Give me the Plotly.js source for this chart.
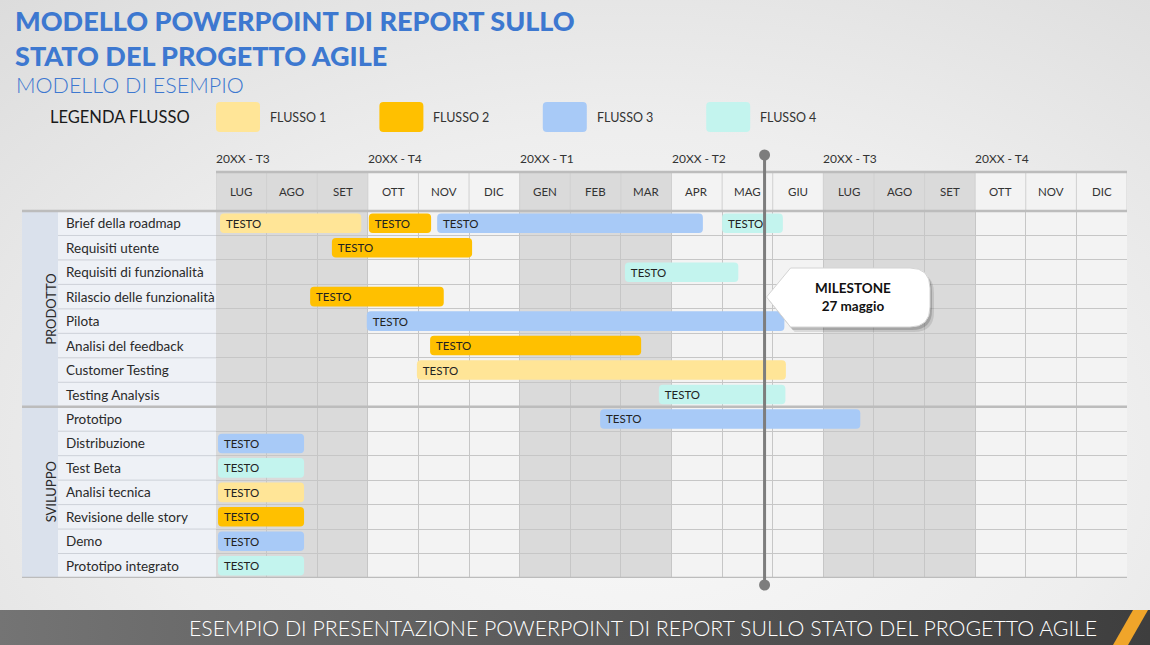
<!DOCTYPE html>
<html><head><meta charset="utf-8">
<script src="https://cdn.plot.ly/plotly-3.0.1.min.js"></script>
<style>
html,body{margin:0;padding:0;}
body{width:1150px;height:645px;overflow:hidden;
background:
 linear-gradient(to right,#747474,#3e3e3e) left bottom/100% 35px no-repeat,
 radial-gradient(ellipse 95% 110% at 55% 70%, #f9f9f9 0%, #eeeeee 45%, #d6d6d6 100%);}
#chart{width:1150px;height:645px;}
</style></head><body><div id="chart"></div>
<script>
// ---------- DATA ----------
const titleLines = ['MODELLO POWERPOINT DI REPORT SULLO', 'STATO DEL PROGETTO AGILE'];
const subtitle = 'MODELLO DI ESEMPIO';
const legendTitle = 'LEGENDA FLUSSO';
const footerText = 'ESEMPIO DI PRESENTAZIONE POWERPOINT DI REPORT SULLO STATO DEL PROGETTO AGILE';
const quarters = ['20XX - T3', '20XX - T4', '20XX - T1', '20XX - T2', '20XX - T3', '20XX - T4'];
const months = ['LUG','AGO','SET','OTT','NOV','DIC','GEN','FEB','MAR','APR','MAG','GIU','LUG','AGO','SET','OTT','NOV','DIC'];
const tasks = ['Brief della roadmap','Requisiti utente','Requisiti di funzionalità','Rilascio delle funzionalità','Pilota','Analisi del feedback','Customer Testing','Testing Analysis','Prototipo','Distribuzione','Test Beta','Analisi tecnica','Revisione delle story','Demo','Prototipo integrato'];
const groupNames = ['PRODOTTO', 'SVILUPPO'];
const groupSizes = [8, 7];
const streamNames = ['FLUSSO 1', 'FLUSSO 2', 'FLUSSO 3', 'FLUSSO 4'];
const barLabel = 'TESTO';
// bars: task row index, start and end in months from the first LUG
const flusso1Rows = [0, 6, 11];
const flusso1Start = [0.08, 3.97, 0.04];
const flusso1End = [2.87, 11.26, 1.74];
const flusso2Rows = [0, 1, 3, 5, 12];
const flusso2Start = [3.02, 2.29, 1.86, 4.23, 0.04];
const flusso2End = [4.25, 5.06, 4.50, 8.40, 1.74];
const flusso3Rows = [0, 4, 8, 9, 13];
const flusso3Start = [4.37, 2.98, 7.59, 0.04, 0.04];
const flusso3End = [9.62, 11.23, 12.73, 1.74, 1.74];
const flusso4Rows = [0, 2, 7, 10, 14];
const flusso4Start = [10.00, 8.08, 8.75, 0.04, 0.04];
const flusso4End = [11.20, 10.32, 11.25, 1.74, 1.74];
const milestoneTitle = 'MILESTONE';
const milestoneDate = '27 maggio';
const milestoneMonthIndex = 10; // MAG
const milestoneDay = 27;

// ---------- STYLE / LAYOUT ----------
const COLORS = ['#ffe597', '#ffc000', '#a8caf7', '#c3f4ee'];
const FONT = 'Lato, "Open Sans", sans-serif';
const BLUE = '#3d78d0';
const W = 1150, H = 645, L = 216, R = 23, T = 211, B = 67;
const PW = W - L - R, PH = H - T - B;
const NM = months.length, NR = tasks.length;
const PX = x => (x - L) / PW;
const PY = y => (H - B - y) / PH;
const DX = x => (x - L) / PW * NM;
const DY = y => (y - T) / PH * NR - 0.5;

function rrPath(x0, y0, x1, y1, r, fx, fy) {
  const p = (x, y) => fx(x) + ',' + fy(y);
  return 'M' + p(x0 + r, y0) + ' L' + p(x1 - r, y0) + ' Q' + p(x1, y0) + ' ' + p(x1, y0 + r) +
    ' L' + p(x1, y1 - r) + ' Q' + p(x1, y1) + ' ' + p(x1 - r, y1) + ' L' + p(x0 + r, y1) +
    ' Q' + p(x0, y1) + ' ' + p(x0, y1 - r) + ' L' + p(x0, y0 + r) + ' Q' + p(x0, y0) + ' ' + p(x0 + r, y0) + ' Z';
}

const streams = [
  [flusso1Rows, flusso1Start, flusso1End],
  [flusso2Rows, flusso2Start, flusso2End],
  [flusso3Rows, flusso3Start, flusso3End],
  [flusso4Rows, flusso4Start, flusso4End]
];

const traces = streams.map((s, k) => ({
  type: 'bar', orientation: 'h', name: streamNames[k],
  y: s[0], base: s[1], x: s[2].map((e, i) => e - s[1][i]),
  width: 0.8,
  marker: { color: COLORS[k], cornerradius: 4, line: { width: 0 } },
  text: s[0].map(() => barLabel),
  texttemplate: '\u00a0%{text}',
  textposition: 'inside', insidetextanchor: 'start', textangle: 0,
  insidetextfont: { family: FONT, size: 11.5, color: '#222' },
  hoverinfo: 'skip', showlegend: false
}));

const shapes = [];
const annotations = [];
const headerTop = PY(172);

// quarter column shading (body + header)
quarters.forEach((q, i) => {
  shapes.push({ type: 'rect', layer: 'below', xref: 'x', yref: 'paper', x0: 3 * i, x1: 3 * i + 3, y0: 0, y1: headerTop,
    fillcolor: i % 2 === 0 ? '#dadada' : '#f3f3f3', line: { width: 0 } });
});
// left panel
shapes.push({ type: 'rect', layer: 'below', xref: 'paper', yref: 'paper', x0: PX(22), x1: PX(58), y0: 0, y1: 1, fillcolor: '#dae1ec', line: { width: 0 } });
shapes.push({ type: 'rect', layer: 'below', xref: 'paper', yref: 'paper', x0: PX(58), x1: 0, y0: 0, y1: 1, fillcolor: '#eef1f6', line: { width: 0 } });
// header month separators
for (let i = 0; i <= NM; i++) {
  shapes.push({ type: 'line', layer: 'below', xref: 'x', yref: 'paper', x0: i, x1: i, y0: 1, y1: headerTop, line: { color: '#d0d0d0', width: 1 } });
}
// label column row separators
let gStart = 0; const groupBounds = [];
groupSizes.forEach(n => { groupBounds.push(gStart + n - 0.5); gStart += n; });
for (let r = 0; r < NR - 1; r++) {
  const yb = r + 0.5;
  if (groupBounds.includes(yb)) continue;
  shapes.push({ type: 'line', layer: 'below', xref: 'paper', yref: 'y', x0: PX(58), x1: 0, y0: yb, y1: yb, line: { color: '#cdd1d8', width: 1 } });
}
// thick structure lines
const thick = { color: '#bcbcbc', width: 2.5 };
shapes.push({ type: 'line', xref: 'paper', yref: 'paper', x0: 0, x1: 1, y0: headerTop, y1: headerTop, line: thick });
shapes.push({ type: 'line', xref: 'paper', yref: 'paper', x0: PX(22), x1: 1, y0: 1, y1: 1, line: thick });
groupBounds.forEach(yb => {
  shapes.push({ type: 'line', xref: 'paper', yref: 'y', x0: PX(22), x1: 1, y0: yb, y1: yb, line: thick });
});

// milestone
const milestoneX = milestoneMonthIndex + (milestoneDay - 1) / 31;
const mTop = PY(155), mBot = PY(585);
shapes.push({ type: 'line', xref: 'x', yref: 'paper', x0: milestoneX, x1: milestoneX, y0: mBot, y1: mTop, line: { color: '#7d7d7d', width: 3 } });
[mTop, mBot].forEach(yv => {
  shapes.push({ type: 'circle', xref: 'x', yref: 'paper', xsizemode: 'pixel', ysizemode: 'pixel', xanchor: milestoneX, yanchor: yv,
    x0: -5.5, x1: 5.5, y0: -5.5, y1: 5.5, fillcolor: '#7d7d7d', line: { width: 0 } });
});
// callout
const tipPx = L + milestoneX / NM * PW + 2;
function calloutPath(ox, oy) {
  const p = (x, y) => DX(x + ox) + ',' + DY(y + oy);
  const x1 = 930, r = 20, yT = 268, yB = 327, yM = 297, xb = tipPx + 24;
  return 'M' + p(tipPx, yM) + ' L' + p(xb, yT) + ' L' + p(x1 - r, yT) + ' Q' + p(x1, yT) + ' ' + p(x1, yT + r) +
    ' L' + p(x1, yB - r) + ' Q' + p(x1, yB) + ' ' + p(x1 - r, yB) + ' L' + p(xb, yB) + ' Z';
}
shapes.push({ type: 'path', xref: 'x', yref: 'y', path: calloutPath(4, 5), fillcolor: 'rgba(0,0,0,0.10)', line: { width: 0 } });
shapes.push({ type: 'path', xref: 'x', yref: 'y', path: calloutPath(2, 3), fillcolor: 'rgba(0,0,0,0.16)', line: { width: 0 } });
shapes.push({ type: 'path', xref: 'x', yref: 'y', path: calloutPath(0, 0), fillcolor: '#ffffff', line: { color: '#d4d4d4', width: 1 } });
annotations.push({ xref: 'x', yref: 'y', x: DX(853), y: DY(297), text: '<b>' + milestoneTitle + '<br>' + milestoneDate + '</b>',
  showarrow: false, align: 'center', font: { family: FONT, size: 13.5, color: '#111' } });

// legend
streamNames.forEach((nm, k) => {
  const x0 = 216 + k * 163.4;
  shapes.push({ type: 'path', xref: 'paper', yref: 'paper', path: rrPath(x0, 102, x0 + 44, 132, 4, PX, PY), fillcolor: COLORS[k], line: { width: 0 } });
  annotations.push({ xref: 'paper', yref: 'paper', x: PX(x0 + 52), y: PY(117), xanchor: 'left', yanchor: 'middle', text: nm,
    showarrow: false, font: { family: FONT, size: 12.5, color: '#333' } });
});
annotations.push({ xref: 'paper', yref: 'paper', x: PX(48), y: PY(117), xanchor: 'left', yanchor: 'middle', text: legendTitle,
  showarrow: false, font: { family: FONT, size: 16.5, color: '#1a1a1a' } });
annotations.push({ xref: 'paper', yref: 'paper', x: PX(14), y: PY(85), xanchor: 'left', yanchor: 'middle', text: subtitle,
  showarrow: false, font: { family: FONT, size: 21.5, color: BLUE, weight: 300 } });

// quarter + month labels
quarters.forEach((q, i) => {
  annotations.push({ xref: 'x', yref: 'paper', x: 3 * i, y: PY(159), xanchor: 'left', yanchor: 'middle', xshift: -2, text: q,
    showarrow: false, font: { family: FONT, size: 12, color: '#333' } });
});
months.forEach((m, i) => {
  annotations.push({ xref: 'x', yref: 'paper', x: i + 0.5, y: PY(191), xanchor: 'center', yanchor: 'middle', text: m,
    showarrow: false, font: { family: FONT, size: 11.5, color: '#333' } });
});
// task labels
tasks.forEach((t, i) => {
  annotations.push({ xref: 'paper', yref: 'y', x: PX(64), y: i, xanchor: 'left', yanchor: 'middle', text: t,
    showarrow: false, font: { family: FONT, size: 13.5, color: '#2a2a2a' } });
});
// group labels
let acc = 0;
groupNames.forEach((g, i) => {
  const c = acc + (groupSizes[i] - 1) / 2; acc += groupSizes[i];
  annotations.push({ xref: 'paper', yref: 'y', x: PX(41), y: c, textangle: -90, text: g,
    showarrow: false, font: { family: FONT, size: 13, color: '#2a2a2a' } });
});
// footer
shapes.push({ type: 'path', xref: 'paper', yref: 'paper',
  path: 'M' + PX(1113) + ',' + PY(645) + ' L' + PX(1128) + ',' + PY(645) + ' L' + PX(1148) + ',' + PY(610) + ' L' + PX(1133) + ',' + PY(610) + ' Z',
  fillcolor: '#f0a52a', line: { width: 0 } });
annotations.push({ xref: 'paper', yref: 'paper', x: PX(1099), y: PY(628), xanchor: 'right', yanchor: 'middle', text: footerText,
  showarrow: false, font: { family: FONT, size: 21.3, color: '#ffffff', weight: 300 } });

const layout = {
  width: W, height: H,
  margin: { l: L, r: R, t: T, b: B, pad: 0 },
  paper_bgcolor: 'rgba(0,0,0,0)', plot_bgcolor: 'rgba(0,0,0,0)',
  title: { text: titleLines.join('<br>'), x: 15 / W, xref: 'container', xanchor: 'left', y: 1 - 31 / H, yref: 'container', yanchor: 'top',
    font: { family: FONT, size: 27, color: BLUE, weight: 900 } },
  barmode: 'overlay', showlegend: false,
  xaxis: { range: [0, NM], tickvals: Array.from({ length: NM + 1 }, (_, i) => i), showticklabels: false, ticks: '',
    showgrid: true, gridcolor: '#c6c6c6', gridwidth: 1, zeroline: false, showline: false, fixedrange: true },
  yaxis: { range: [NR - 0.5, -0.5], autorange: false, tickvals: Array.from({ length: NR + 1 }, (_, i) => i - 0.5), showticklabels: false, ticks: '',
    showgrid: true, gridcolor: '#c6c6c6', gridwidth: 1, zeroline: false, showline: false, fixedrange: true },
  shapes, annotations,
  font: { family: FONT }
};
Plotly.newPlot('chart', traces, layout, { displayModeBar: false, staticPlot: true });
</script></body></html>
